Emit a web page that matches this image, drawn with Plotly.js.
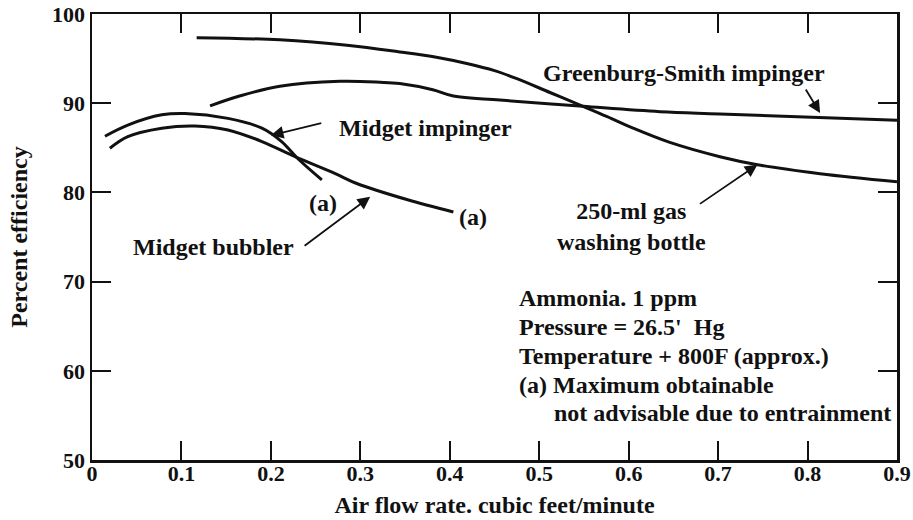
<!DOCTYPE html>
<html>
<head>
<meta charset="utf-8">
<script src="https://cdn.plot.ly/plotly-3.0.1.min.js"></script>
<style>html,body{margin:0;padding:0;background:#fff;}#chart{width:913px;height:520px;}</style>
</head>
<body>
<div id="chart"></div>
<script>
// Data
const impingerX = [0.0145, 0.040, 0.078, 0.104, 0.152, 0.190, 0.212, 0.230, 0.257];
const impingerY = [86.3, 87.55, 88.7, 88.85, 88.3, 87.2, 85.7, 83.8, 81.4];

const bubblerX = [0.020, 0.040, 0.078, 0.115, 0.152, 0.190, 0.227, 0.272, 0.296, 0.352, 0.404];
const bubblerY = [84.95, 86.25, 87.2, 87.45, 87.0, 85.7, 84.0, 82.1, 81.0, 79.2, 77.8];

const gsX = [0.132, 0.165, 0.21, 0.277, 0.322, 0.344, 0.381, 0.404, 0.456, 0.549, 0.635, 0.702, 0.9];
const gsY = [89.7, 90.8, 91.9, 92.45, 92.35, 92.2, 91.5, 90.8, 90.35, 89.65, 89.05, 88.8, 88.1];

const bottleX = [0.117, 0.21, 0.285, 0.344, 0.385, 0.419, 0.45, 0.475, 0.512, 0.549, 0.576, 0.605, 0.646, 0.702, 0.744, 0.814, 0.9];
const bottleY = [97.35, 97.1, 96.5, 95.75, 95.15, 94.45, 93.65, 92.75, 91.2, 89.65, 88.5, 87.2, 85.6, 84.0, 83.1, 82.1, 81.2];

const xTickVals = [0, 0.1, 0.2, 0.3, 0.4, 0.5, 0.6, 0.7, 0.8, 0.9];
const xTickText = ['0', '0.1', '0.2', '0.3', '0.4', '0.5', '0.6', '0.7', '0.8', '0.9'];
const yTickVals = [50, 60, 70, 80, 90, 100];
const yTickText = ['50', '60', '70', '80', '90', '100'];

const infoLines = [
  'Ammonia. 1 ppm',
  'Pressure = 26.5\'\u00A0\u00A0Hg',
  'Temperature + 800F (approx.)',
  '(a) Maximum obtainable',
  'not advisable due to entrainment'
];
const infoX = [0.475, 0.475, 0.475, 0.475, 0.514];
const infoY = [68.15, 64.9, 61.65, 58.45, 55.3];

const FONT = 'Liberation Serif, Times New Roman, serif';
const INK = '#111';

function curve(x, y) {
  return {x: x, y: y, mode: 'lines', type: 'scatter',
    line: {color: INK, width: 3, shape: 'spline', smoothing: 1},
    hoverinfo: 'skip', showlegend: false};
}

const traces = [curve(impingerX, impingerY), curve(bubblerX, bubblerY),
                curve(gsX, gsY), curve(bottleX, bottleY)];

function label(text, x, y, xanchor, size) {
  return {text: text, x: x, y: y, xref: 'x', yref: 'y', showarrow: false,
    xanchor: xanchor || 'center', yanchor: 'middle', align: xanchor === 'left' ? 'left' : 'center',
    font: {family: FONT, size: size || 24, color: INK, weight: 'bold'}};
}
function arrow(tx, ty, hx, hy) {
  return {text: '', x: hx, y: hy, ax: tx, ay: ty, xref: 'x', yref: 'y', axref: 'x', ayref: 'y',
    showarrow: true, arrowhead: 2, arrowsize: 1.4, arrowwidth: 1.8, arrowcolor: INK, standoff: 0};
}

const annotations = [
  label('Midget impinger', 0.274, 87.2, 'left'),
  label('(a)', 0.258, 78.8),
  label('(a)', 0.426, 77.2),
  label('Midget bubbler', 0.136, 73.9),
  label('Greenburg-Smith impinger', 0.662, 93.4),
  label('250-ml gas<br>washing bottle', 0.603, 76.2),
  arrow(0.258, 87.8, 0.2, 86.4),
  arrow(0.236, 73.9, 0.311, 79.5),
  arrow(0.797, 91.7, 0.814, 88.9),
  arrow(0.678, 78.6, 0.744, 83.1)
];
infoLines.forEach((t, i) => annotations.push(label(t, infoX[i], infoY[i], 'left')));

const axisCommon = {
  showline: true, linecolor: INK, linewidth: 2.5, mirror: 'ticks',
  ticks: 'inside', ticklen: 19, tickwidth: 2, tickcolor: INK,
  showgrid: false, zeroline: false, tickmode: 'array',
  tickfont: {family: FONT, size: 22, color: INK, weight: 'bold'}
};

const layout = {
  width: 913, height: 520,
  margin: {l: 92, r: 16, t: 14, b: 60},
  paper_bgcolor: '#fff', plot_bgcolor: '#fff',
  showlegend: false,
  xaxis: Object.assign({}, axisCommon, {
    range: [0, 0.9], tickvals: xTickVals, ticktext: xTickText,
    ticklabelstandoff: -8,
    title: {text: 'Air flow rate. cubic feet/minute', standoff: 12,
      font: {family: FONT, size: 24, color: INK, weight: 'bold'}}
  }),
  yaxis: Object.assign({}, axisCommon, {
    range: [50, 100], tickvals: yTickVals, ticktext: yTickText,
    title: {text: 'Percent efficiency', standoff: 18,
      font: {family: FONT, size: 24, color: INK, weight: 'bold'}}
  }),
  annotations: annotations
};

Plotly.newPlot('chart', traces, layout, {staticPlot: true, displayModeBar: false});
</script>
</body>
</html>
